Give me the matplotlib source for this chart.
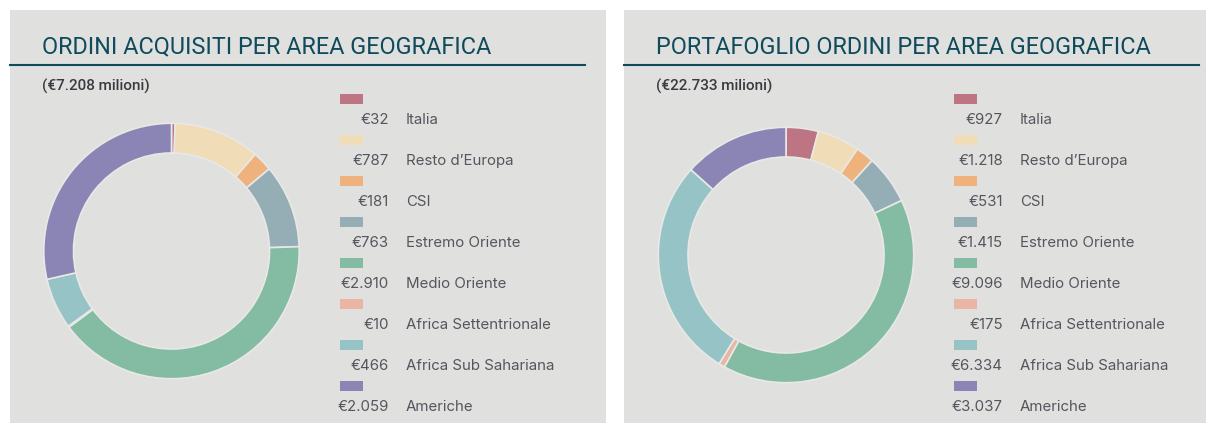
import numpy as np
import matplotlib
matplotlib.use("Agg")
import matplotlib.pyplot as plt
from matplotlib.patches import Rectangle
from matplotlib.lines import Line2D

# data
regions = ['Italia', 'Resto d\u2019Europa', 'CSI', 'Estremo Oriente', 'Medio Oriente',
           'Africa Settentrionale', 'Africa Sub Sahariana', 'Americhe']
acquisiti = [32, 787, 181, 763, 2910, 10, 466, 2059]
acquisiti_labels = ['\u20ac32', '\u20ac787', '\u20ac181', '\u20ac763', '\u20ac2.910',
                    '\u20ac10', '\u20ac466', '\u20ac2.059']
portafoglio = [927, 1218, 531, 1415, 9096, 175, 6334, 3037]
portafoglio_labels = ['\u20ac927', '\u20ac1.218', '\u20ac531', '\u20ac1.415', '\u20ac9.096',
                      '\u20ac175', '\u20ac6.334', '\u20ac3.037']
colors = ['#bd7584', '#f0dcb6', '#efb27c', '#95aeb6', '#83bba3', '#ebb5a5', '#96c3c5', '#8a85b5']

W, H = 1206, 423
bg = '#e0e0df'
teal = '#0f4b5c'
grey = '#55555e'

fig = plt.figure(figsize=(W / 100, H / 100), dpi=100)
fig.patch.set_facecolor('white')


def fx(x):
    return x / W


def fy(y):
    return 1 - y / H


def panel(x0, x1, line_end, title, subtitle, values, labels, cx, cy, lx, vx, tx):
    # grey card + rule under the title
    fig.patches.append(Rectangle((fx(x0), 0), fx(x1 - x0), fy(10), transform=fig.transFigure,
                                 facecolor=bg, edgecolor='none', zorder=-5))
    fig.lines.append(Line2D([fx(x0), fx(line_end)], [fy(65), fy(65)], transform=fig.transFigure,
                            color=teal, lw=1.5))
    fig.text(fx(x0 + 32), fy(47), title, color=teal, fontsize=16.8, family='Roboto',
             va='center', ha='left')
    fig.text(fx(x0 + 32), fy(86), subtitle, color='#3a3a40', fontsize=11, family='Roboto',
             fontweight='medium', va='center', ha='left')

    r = 129
    ax = fig.add_axes([fx(cx - r), fy(cy + r), fx(2 * r), (2 * r) / H])
    ax.pie(values, colors=colors, startangle=90, counterclock=False,
           wedgeprops=dict(width=30 / r, edgecolor='#e8e8e6', linewidth=1.2))
    ax.set_xlim(-1.01, 1.01)
    ax.set_ylim(-1.01, 1.01)
    ax.set_aspect('equal')
    ax.axis('off')

    # legend: swatch above, value + name below
    for i, (name, lab) in enumerate(zip(regions, labels)):
        py = 94 + i * 41
        fig.patches.append(Rectangle((fx(lx), fy(py + 10)), fx(23), 10 / H,
                                     transform=fig.transFigure, facecolor=colors[i],
                                     edgecolor='none'))
        ty = py + 26
        fig.text(fx(vx), fy(ty), lab, color=grey, fontsize=10.8, family='Inter',
                 ha='right', va='center')
        fig.text(fx(tx), fy(ty), name, color=grey, fontsize=10.8, family='Inter',
                 ha='left', va='center')


panel(10, 606, 585, 'ORDINI ACQUISITI PER AREA GEOGRAFICA', '(\u20ac7.208 milioni)',
      acquisiti, acquisiti_labels, 171.5, 251, 340, 389, 406)
panel(624, 1206, 1199, 'PORTAFOGLIO ORDINI PER AREA GEOGRAFICA', '(\u20ac22.733 milioni)',
      portafoglio, portafoglio_labels, 786, 255, 954, 1003, 1020)

fig.savefig('out.png', dpi=100, facecolor=fig.get_facecolor())
